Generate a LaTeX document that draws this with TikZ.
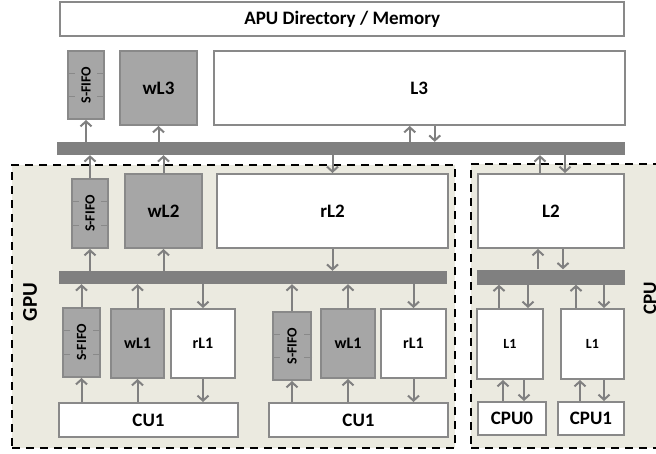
\documentclass[tikz,border=0pt]{standalone}
\usepackage{fontspec}
\setmainfont{Carlito}
\usetikzlibrary{arrows.meta,calc}

\definecolor{regionbg}{RGB}{235,234,224}
\definecolor{edgegray}{RGB}{137,137,137}
\definecolor{wfill}{RGB}{166,166,166}
\definecolor{busgray}{RGB}{128,128,128}

\newcommand{\fs}[1]{\fontsize{#1}{#1}\selectfont\bfseries}

\tikzset{
  box/.style={draw=edgegray, line width=2pt, fill=white, inner sep=0pt},
  wbox/.style={box, fill=wfill},
  bus/.style={fill=busgray, draw=none, inner sep=0pt},
  region/.style={draw=black, line width=2.4pt, dash pattern=on 8pt off 6pt,
                 fill=regionbg, inner sep=0pt},
  link/.style={draw=busgray, line width=2pt,
               -{Straight Barb[length=5pt,width=11pt,line width=2pt]}},
  tick/.style={draw=edgegray, line width=1.6pt},
  big/.style={font=\fs{19}},
  mid/.style={font=\fs{19}},
  small/.style={font=\fs{16}},
  tiny/.style={font=\fs{14}},
  fifo/.style={font=\fs{14}},
}

\begin{document}
\begin{tikzpicture}[x=1pt, y=-1pt]
\useasboundingbox[fill=white] (0,0) rectangle (656,453);
\clip (0,0) rectangle (656,453);

% GPU and CPU regions
\node[region, minimum width=443pt, minimum height=283pt] (gpu) at (233.5,306.5) {};
\node[region, minimum width=219pt, minimum height=284pt] (cpu) at (580.5,306) {};
\node[rotate=90, font=\fs{21}] (gpulbl) at (30,302) {GPU};
\node[rotate=90, font=\fs{19}] (cpulbl) at (650,298) {CPU};

% Shared level
\node[box, font=\fs{19}, minimum width=564pt, minimum height=34pt] (apu) at (342.25,19) {APU Directory / Memory};
\node[wbox, fifo, minimum width=36pt, minimum height=68pt] (sf3) at (86,85) {\rotatebox{90}{S-FIFO}};
\node[wbox, big, minimum width=77pt, minimum height=74pt] (wl3) at (158.5,88) {wL3};
\node[box, big, minimum width=410.5pt, minimum height=74pt] (l3) at (419.25,88) {L3};
\node[bus, minimum width=568pt, minimum height=13pt] (bus3) at (341,148.5) {};

% GPU L2 level
\node[wbox, fifo, minimum width=36pt, minimum height=69pt] (sf2) at (90,213.5) {\rotatebox{90}{S-FIFO}};
\node[wbox, big, minimum width=77pt, minimum height=74pt] (wl2) at (163.5,211) {wL2};
\node[box, big, minimum width=231pt, minimum height=74pt] (rl2) at (332.5,211) {rL2};
\node[bus, minimum width=388pt, minimum height=13pt] (bus2) at (253,277.5) {};

% GPU compute units
\node[wbox, fifo, minimum width=37pt, minimum height=69pt] (sfA) at (81.5,342.5) {\rotatebox{90}{S-FIFO}};
\node[wbox, small, minimum width=53pt, minimum height=69pt] (wlA) at (137.5,343.5) {wL1};
\node[box, small, minimum width=64pt, minimum height=69pt] (rlA) at (203,343.5) {rL1};
\node[box, mid, minimum width=179pt, minimum height=34pt] (cuA) at (148.5,420) {CU1};

\node[wbox, fifo, minimum width=38pt, minimum height=68pt] (sfB) at (292,346) {\rotatebox{90}{S-FIFO}};
\node[wbox, small, minimum width=54pt, minimum height=69pt] (wlB) at (348,343.5) {wL1};
\node[box, small, minimum width=65pt, minimum height=69pt] (rlB) at (413.5,343.5) {rL1};
\node[box, mid, minimum width=179pt, minimum height=34pt] (cuB) at (358.5,420) {CU1};

% CPU side
\node[box, big, minimum width=146pt, minimum height=74pt] (l2c) at (551,211) {L2};
\node[bus, minimum width=148pt, minimum height=15pt] (busc) at (551,277) {};
\node[box, tiny, minimum width=66pt, minimum height=70pt] (l1a) at (510,344) {L1};
\node[box, tiny, minimum width=63pt, minimum height=70pt] (l1b) at (592.5,344) {L1};
\node[box, mid, minimum width=68pt, minimum height=33pt] (cpu0) at (512,418.5) {CPU0};
\node[box, mid, minimum width=66pt, minimum height=33pt] (cpu1) at (591,418.5) {CPU1};

% Slot marks on the store FIFOs
\foreach \s in {sf3,sf2,sfA,sfB}{
  \foreach \f in {0.333,0.667}{
    \draw[tick] ($(\s.north west)!\f!(\s.south west)$) -- ++(8,0);
    \draw[tick] ($(\s.north east)!\f!(\s.south east)$) -- ++(-8,0);
  }
}

% Connector positions that sit off a box centre
\coordinate (l3up) at ([xshift=-9.5pt]l3.south);
\coordinate (l3dn) at ([xshift=15.5pt]l3.south);
\coordinate (l2tu) at ([xshift=-11pt]l2c.north);
\coordinate (l2td) at ([xshift=14pt]l2c.north);
\coordinate (l2bu) at ([xshift=-13pt]l2c.south);
\coordinate (l2bd) at ([xshift=12pt]l2c.south);
\coordinate (l1atu) at ([xshift=-11pt]l1a.north);
\coordinate (l1atd) at ([xshift=18pt]l1a.north);
\coordinate (l1btu) at ([xshift=-16.5pt]l1b.north);
\coordinate (l1btd) at ([xshift=11.5pt]l1b.north);
\coordinate (c0u) at ([xshift=-9pt]cpu0.north);
\coordinate (c0d) at ([xshift=12pt]cpu0.north);
\coordinate (c1u) at ([xshift=-11pt]cpu1.north);
\coordinate (c1d) at ([xshift=13pt]cpu1.north);

% Shared bus <-> L3 level
\draw[link] (bus3.north -| sf3.south) -- (sf3.south);
\draw[link] (bus3.north -| wl3.south) -- (wl3.south);
\draw[link] (l3up |- bus3.north) -- (l3up);
\draw[link] (l3dn) -- (l3dn |- bus3.north);

% L2 level <-> shared bus
\draw[link] (sf2.north) -- (sf2.north |- bus3.south);
\draw[link] (wl2.north) -- (wl2.north |- bus3.south);
\draw[link] (rl2.north |- bus3.south) -- (rl2.north);
\draw[link] (l2tu) -- (l2tu |- bus3.south);
\draw[link] (l2td |- bus3.south) -- (l2td);

% GPU bus
\draw[link] (bus2.north -| sf2.south) -- (sf2.south);
\draw[link] (bus2.north -| wl2.south) -- (wl2.south);
\draw[link] (rl2.south) -- (rl2.south |- bus2.north);
\foreach \u in {A,B}{
  \draw[link] (sf\u.north) -- (sf\u.north |- bus2.south);
  \draw[link] (wl\u.north) -- (wl\u.north |- bus2.south);
  \draw[link] (rl\u.north |- bus2.south) -- (rl\u.north);
  \draw[link] (sf\u.south |- cu\u.north) -- (sf\u.south);
  \draw[link] (wl\u.south |- cu\u.north) -- (wl\u.south);
  \draw[link] (rl\u.south) -- (rl\u.south |- cu\u.north);
}

% CPU bus
\draw[link] (l2bu |- busc.north) -- (l2bu);
\draw[link] (l2bd) -- (l2bd |- busc.north);
\draw[link] (l1atu) -- (l1atu |- busc.south);
\draw[link] (l1atd |- busc.south) -- (l1atd);
\draw[link] (l1btu) -- (l1btu |- busc.south);
\draw[link] (l1btd |- busc.south) -- (l1btd);
\draw[link] (c0u) -- (c0u |- l1a.south);
\draw[link] (c0d |- l1a.south) -- (c0d);
\draw[link] (c1u) -- (c1u |- l1b.south);
\draw[link] (c1d |- l1b.south) -- (c1d);
\end{tikzpicture}
\end{document}
